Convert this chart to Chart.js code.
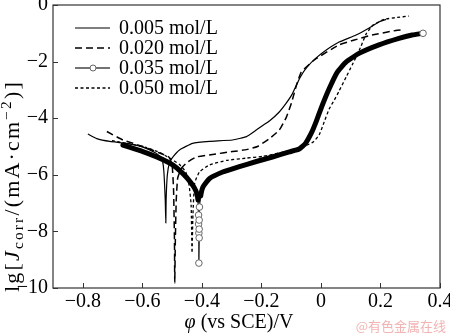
<!DOCTYPE html>
<html>
<head>
<meta charset="utf-8">
<script src="https://cdn.jsdelivr.net/npm/chart.js@4.4.1/dist/chart.umd.min.js"></script>
<style>
  html, body { margin: 0; padding: 0; background: #fff; }
</style>
</head>
<body>
<canvas id="chart" width="450" height="336"></canvas>
<script>
/* Polarization curves, lg J vs potential */
const seriesNames = ['0.005 mol/L', '0.020 mol/L', '0.035 mol/L', '0.050 mol/L'];

const xTicks = [-0.8, -0.6, -0.4, -0.2, 0, 0.2, 0.4];
const xTickLabels = ['\u22120.8', '\u22120.6', '\u22120.4', '\u22120.2', '0', '0.2', '0.4'];
const yTicks = [-10, -8, -6, -4, -2, 0];
const yTickLabels = ['\u221210', '\u22128', '\u22126', '\u22124', '\u22122', '0'];

const v005 = [-0.783, -0.753, -0.709, -0.652, -0.598, -0.555, -0.535, -0.528, -0.523, -0.521, -0.520, -0.516, -0.508, -0.495, -0.475, -0.431, -0.374, -0.297, -0.250, -0.217, -0.193, -0.173, -0.140, -0.116, -0.096, -0.069, -0.046, -0.016, 0.018, 0.061, 0.118, 0.162, 0.195, 0.219];
const j005 = [-4.56, -4.72, -4.82, -4.89, -5.02, -5.23, -5.41, -5.83, -6.89, -7.70, -6.89, -6.01, -5.55, -5.34, -5.12, -4.89, -4.82, -4.77, -4.65, -4.42, -4.24, -4.10, -3.78, -3.46, -3.14, -2.54, -2.19, -1.87, -1.59, -1.31, -1.06, -0.81, -0.60, -0.51];

const v020 = [-0.719, -0.665, -0.598, -0.542, -0.511, -0.500, -0.495, -0.492, -0.491, -0.489, -0.486, -0.481, -0.468, -0.448, -0.418, -0.364, -0.297, -0.250, -0.213, -0.173, -0.140, -0.116, -0.099, -0.082, -0.066, -0.022, 0.061, 0.112, 0.172, 0.252, 0.273];
const j020 = [-4.47, -4.77, -5.00, -5.23, -5.37, -5.65, -6.54, -8.30, -9.82, -8.30, -6.89, -6.11, -5.76, -5.55, -5.37, -5.28, -5.18, -5.11, -5.00, -4.72, -4.42, -3.96, -3.46, -2.83, -2.37, -1.94, -1.41, -1.24, -1.06, -0.90, -0.88];

const v035 = [-0.665, -0.598, -0.542, -0.498, -0.465, -0.436, -0.419, -0.413, -0.411, -0.411, -0.410, -0.410, -0.409, -0.409, -0.409, -0.408, -0.404, -0.396, -0.374, -0.330, -0.274, -0.217, -0.163, -0.106, -0.073, -0.052, -0.032, -0.016, 0.005, 0.028, 0.055, 0.085, 0.128, 0.195, 0.262, 0.306, 0.343];
const j035 = [-4.95, -5.18, -5.41, -5.65, -5.94, -6.29, -6.59, -6.89, -7.42, -7.74, -8.06, -9.12, -8.23, -7.92, -7.60, -7.14, -6.75, -6.43, -6.13, -5.90, -5.71, -5.53, -5.37, -5.19, -5.09, -4.89, -4.52, -4.12, -3.53, -2.95, -2.37, -2.01, -1.71, -1.41, -1.18, -1.06, -1.00];

const v050 = [-0.702, -0.642, -0.585, -0.542, -0.508, -0.475, -0.454, -0.443, -0.436, -0.433, -0.430, -0.424, -0.408, -0.374, -0.317, -0.250, -0.196, -0.140, -0.079, -0.049, -0.026, -0.006, 0.011, 0.028, 0.045, 0.061, 0.085, 0.105, 0.118, 0.135, 0.152, 0.175, 0.212, 0.256, 0.296];
const j050 = [-4.79, -4.91, -5.04, -5.21, -5.41, -5.64, -5.90, -6.36, -7.07, -8.76, -7.42, -6.29, -5.90, -5.65, -5.49, -5.41, -5.35, -5.23, -5.07, -4.96, -4.84, -4.59, -4.13, -3.67, -3.36, -3.04, -2.54, -2.12, -1.84, -1.45, -1.02, -0.71, -0.51, -0.44, -0.39];

const SERIF = "'Liberation Serif', 'DejaVu Serif', serif";
const pts = (xs, ys) => xs.map((x, i) => ({ x, y: ys[i] }));

const datasets = [
  { label: seriesNames[0], data: pts(v005, j005), borderColor: '#000', borderWidth: 1.2, pointRadius: 0 },
  { label: seriesNames[1], data: pts(v020, j020), borderColor: '#000', borderWidth: 1.5, borderDash: [7, 4], pointRadius: 0 },
  { label: seriesNames[2], data: pts(v035, j035), borderColor: '#000', borderWidth: 5,
    borderCapStyle: 'round', borderJoinStyle: 'round',
    segment: { borderWidth: c => (c.p0.parsed.y < -7 || c.p1.parsed.y < -7) ? 1.2 : 5 },
    pointRadius: c => (c.raw && (c.raw.y < -7 || c.dataIndex === v035.length - 1)) ? 3.3 : 0,
    pointBackgroundColor: '#fff', pointBorderColor: '#666', pointBorderWidth: 1 },
  { label: seriesNames[3], data: pts(v050, j050), borderColor: '#000', borderWidth: 1.3, borderDash: [3, 2.5], pointRadius: 0 },
];
datasets.forEach(d => { d.showLine = true; d.tension = 0.15; d.fill = false; });

const decor = {
  id: 'decor',
  afterDatasetsDraw(chart) {
    const { ctx, chartArea: a, scales: { x, y } } = chart;
    ctx.save();
    // frame
    ctx.strokeStyle = '#333';
    ctx.lineWidth = 1.2;
    ctx.strokeRect(a.left, a.top, a.right - a.left, a.bottom - a.top);
    // inward ticks
    ctx.lineWidth = 1;
    ctx.beginPath();
    xTicks.forEach(v => { const p = Math.round(x.getPixelForValue(v)) + 0.5; ctx.moveTo(p, a.bottom); ctx.lineTo(p, a.bottom - 5); });
    yTicks.forEach(v => { const p = Math.round(y.getPixelForValue(v)) + 0.5; ctx.moveTo(a.left, p); ctx.lineTo(a.left + 5, p); });
    ctx.stroke();

    // legend
    ctx.font = '20px ' + SERIF;
    ctx.fillStyle = '#000';
    ctx.textBaseline = 'middle';
    chart.data.datasets.forEach((d, i) => {
      const ry = 28 + i * 20;
      ctx.save();
      ctx.strokeStyle = i === 2 ? '#444' : '#000';
      ctx.lineWidth = i === 2 ? 1.5 : d.borderWidth;
      ctx.setLineDash(d.borderDash || []);
      ctx.beginPath(); ctx.moveTo(75, ry); ctx.lineTo(110, ry); ctx.stroke();
      if (i === 2) {
        ctx.setLineDash([]);
        ctx.fillStyle = '#fff'; ctx.strokeStyle = '#666'; ctx.lineWidth = 1;
        ctx.beginPath(); ctx.arc(93, ry, 3, 0, Math.PI * 2); ctx.fill(); ctx.stroke();
      }
      ctx.restore();
      ctx.fillText(d.label, 119, ry + 1);
    });

    // x title
    ctx.textBaseline = 'alphabetic';
    ctx.textAlign = 'left';
    const xt1 = '\u03c6', xt2 = ' (vs SCE)/V';
    ctx.font = 'italic 20px ' + SERIF;
    const w1 = ctx.measureText(xt1).width;
    ctx.font = '20px ' + SERIF;
    const w2 = ctx.measureText(xt2).width;
    let sx = 239 - (w1 + w2) / 2;
    ctx.font = 'italic 20px ' + SERIF; ctx.fillText(xt1, sx, 328);
    ctx.font = '20px ' + SERIF; ctx.fillText(xt2, sx + w1, 328);

    // y title: lg[J_corr/(mA·cm^-2)]
    const parts = [
      { t: 'lg[', f: '20px ', dy: 0 },
      { t: 'J', f: 'italic 20px ', dy: 0 },
      { t: 'corr', f: '14px ', dy: 4 },
      { t: '/(mA\u00b7cm', f: '20px ', dy: 0 },
      { t: '\u22122', f: '14px ', dy: -8 },
      { t: ')]', f: '20px ', dy: 0 },
    ];
    ctx.letterSpacing = '2px';
    let total = 0;
    parts.forEach(p => { ctx.font = p.f + SERIF; p.w = ctx.measureText(p.t).width; total += p.w; });
    const span = 212;
    ctx.translate(19, 186);
    ctx.rotate(-Math.PI / 2);
    ctx.scale(span / total, 1);
    let cx = -total / 2;
    parts.forEach(p => { ctx.font = p.f + SERIF; ctx.fillText(p.t, cx, p.dy); cx += p.w; });
    ctx.restore();

    // watermark
    ctx.save();
    ctx.font = "13px 'Noto Sans CJK SC', sans-serif";
    ctx.fillStyle = '#f2b3b3';
    ctx.textAlign = 'right';
    ctx.textBaseline = 'alphabetic';
    ctx.fillText('@有色金属在线', 446, 331);
    ctx.restore();
  }
};

new Chart(document.getElementById('chart'), {
  type: 'scatter',
  data: { datasets },
  options: {
    responsive: false,
    animation: false,
    devicePixelRatio: 1,
    layout: { padding: { left: 0, right: 10, top: 5, bottom: 0 } },
    plugins: { legend: { display: false }, tooltip: { enabled: false } },
    scales: {
      x: {
        type: 'linear', min: -0.9, max: 0.4,
        afterBuildTicks: s => { s.ticks = xTicks.map(v => ({ value: v })); },
        afterFit: s => { s.height = 48; s.paddingLeft = 0; s.paddingRight = 0; },
        grid: { drawOnChartArea: false, drawTicks: false },
        border: { display: false },
        ticks: { color: '#000', padding: 2, font: { family: SERIF, size: 20, lineHeight: 1.2 },
                 callback: (v, i) => xTickLabels[i] }
      },
      y: {
        type: 'linear', min: -10, max: 0,
        afterBuildTicks: s => { s.ticks = yTicks.map(v => ({ value: v })); },
        afterFit: s => { s.width = 53; s.paddingTop = 0; s.paddingBottom = 0; },
        grid: { drawOnChartArea: false, drawTicks: false },
        border: { display: false },
        ticks: { color: '#000', padding: 5, font: { family: SERIF, size: 20, lineHeight: 0.5 },
                 callback: (v, i) => yTickLabels[i] }
      }
    }
  },
  plugins: [decor]
});
</script>
</body>
</html>
